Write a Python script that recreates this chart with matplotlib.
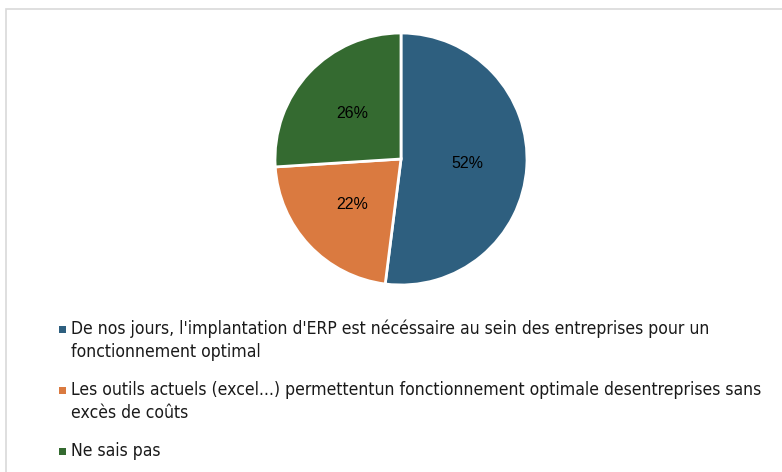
import matplotlib.pyplot as plt
from matplotlib.patches import Rectangle

labels = [
    "De nos jours, l'implantation d'ERP est nécéssaire au sein des entreprises pour un\nfonctionnement optimal",
    "Les outils actuels (excel...) permettentun fonctionnement optimale desentreprises sans\nexcès de coûts",
    "Ne sais pas",
]
values = [52, 22, 26]
colors = ['#2e5f7f', '#da7a40', '#346a30']

W, H = 782, 472
fig = plt.figure(figsize=(W / 100, H / 100), dpi=100)

# light frame around the chart area
fig.patches.append(Rectangle((6 / W, -0.1), 1.1, 1 - 9 / H + 0.1,
                             transform=fig.transFigure, fill=False,
                             edgecolor='#d9d9d9', linewidth=1.2))

# pie: centre (401, 159) px, radius 126 px
ax = fig.add_axes([(401 - 126) / W, (H - 285) / H, 252 / W, 252 / H])
wedges, texts, autotexts = ax.pie(
    values, colors=colors, startangle=90, counterclock=False,
    autopct='%1.0f%%', pctdistance=0.53,
    wedgeprops=dict(edgecolor='white', linewidth=2),
    textprops=dict(fontsize=11.5, color='black', family='Liberation Sans'))
ax.set_xlim(-1, 1)
ax.set_ylim(-1, 1)
ax.set_aspect('equal')

# legend drawn by hand, one text per line, marker on the first line
y = 334
for lab, col in zip(labels, colors):
    fig.patches.append(Rectangle((59 / W, 1 - (y - 1) / H), 7 / W, 7 / H,
                                 transform=fig.transFigure, facecolor=col, edgecolor='none'))
    for line in lab.split('\n'):
        fig.text(71 / W, 1 - y / H, line, va='baseline', ha='left',
                 fontsize=12.6, fontstretch='condensed', family='DejaVu Sans', color='#1a1a1a')
        y += 23
    y += 15

fig.savefig('out.png', dpi=100)
